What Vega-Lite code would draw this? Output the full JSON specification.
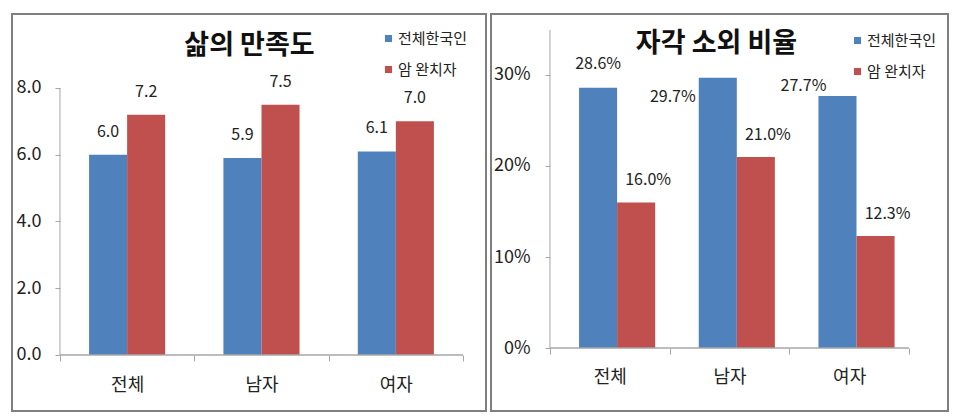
{
  "$schema": "https://vega.github.io/schema/vega-lite/v6.json",
  "padding": {"left": 11, "top": 13, "right": 0, "bottom": 0},
  "background": "white",
  "spacing": 3,
  "config": {
    "font": "Noto Sans CJK KR",
    "view": {"stroke": "#7f7f7f", "strokeWidth": 2},
    "axis": {"grid": false, "domain": false, "tickColor": "#a6a6a6", "tickWidth": 1, "labelColor": "#222222", "labelFont": "Noto Sans CJK KR", "labelFontSize": 18},
    "legend": {"symbolType": "square", "symbolSize": 50, "symbolStrokeWidth": 0, "labelFontSize": 15, "labelColor": "#222222", "labelFont": "Noto Sans CJK KR", "rowPadding": 15, "labelOffset": 2}
  },
  "datasets": {
    "life": [
      {"cat": "전체", "grp": "전체한국인", "val": 6.0},
      {"cat": "전체", "grp": "암 완치자", "val": 7.2},
      {"cat": "남자", "grp": "전체한국인", "val": 5.9},
      {"cat": "남자", "grp": "암 완치자", "val": 7.5},
      {"cat": "여자", "grp": "전체한국인", "val": 6.1},
      {"cat": "여자", "grp": "암 완치자", "val": 7.0}
    ],
    "alien": [
      {"cat": "전체", "grp": "전체한국인", "val": 0.286},
      {"cat": "전체", "grp": "암 완치자", "val": 0.160},
      {"cat": "남자", "grp": "전체한국인", "val": 0.297},
      {"cat": "남자", "grp": "암 완치자", "val": 0.210},
      {"cat": "여자", "grp": "전체한국인", "val": 0.277},
      {"cat": "여자", "grp": "암 완치자", "val": 0.123}
    ]
  },
  "resolve": {"legend": {"color": "independent"}},
  "hconcat": [
    {
      "width": 474,
      "height": 397,
      "data": {"name": "life"},
      "layer": [
        {
          "mark": {"type": "bar"},
          "encoding": {
            "x": {"field": "cat", "type": "nominal", "sort": ["전체", "남자", "여자"], "title": null,
              "scale": {"domain": ["전체", "남자", "여자"], "paddingInner": 0, "paddingOuter": 0.264, "align": 0.676},
              "axis": {"orient": "bottom", "offset": -56, "tickBand": "extent", "tickSize": 6, "labelPadding": 15, "labelAngle": 0}},
            "xOffset": {"field": "grp", "type": "nominal", "sort": ["전체한국인", "암 완치자"],
              "scale": {"domain": ["전체한국인", "암 완치자"], "paddingInner": 0, "paddingOuter": 0.765}},
            "y": {"field": "val", "type": "quantitative", "title": null,
              "scale": {"domain": [-1.678, 10.217], "zero": false, "nice": false},
              "axis": {"values": [0, 2, 4, 6, 8], "format": ".1f", "offset": -48, "tickSize": 5, "labelPadding": 14}},
            "color": {"field": "grp", "type": "nominal", "sort": ["전체한국인", "암 완치자"],
              "scale": {"domain": ["전체한국인", "암 완치자"], "range": ["#4F81BD", "#C0504D"]},
              "legend": {"title": null, "orient": "none", "legendX": 369, "legendY": 17}}
          }
        },
        {
          "mark": {"type": "text", "baseline": "middle", "dy": -23, "fontSize": 16, "color": "#222222"},
          "encoding": {
            "x": {"field": "cat", "type": "nominal", "sort": ["전체", "남자", "여자"], "title": null},
            "xOffset": {"field": "grp", "type": "nominal", "sort": ["전체한국인", "암 완치자"]},
            "y": {"field": "val", "type": "quantitative", "title": null},
            "text": {"field": "val", "type": "quantitative", "format": ".1f"}
          }
        },
        {
          "transform": [{"filter": "datum.grp === '전체한국인'"}],
          "mark": {"type": "bar", "fill": null, "stroke": "#a6a6a6", "strokeWidth": 1},
          "encoding": {
            "x": {"field": "cat", "type": "nominal", "sort": ["전체", "남자", "여자"], "title": null},
            "y": {"datum": 0, "type": "quantitative", "title": null},
            "y2": {"datum": 0}
          }
        },
        {
          "transform": [{"filter": "datum.grp === '전체한국인' && datum.cat === '전체'"}],
          "mark": {"type": "rule", "stroke": "#a6a6a6", "strokeWidth": 1},
          "encoding": {
            "x": {"field": "cat", "type": "nominal", "sort": ["전체", "남자", "여자"], "title": null, "bandPosition": 0},
            "y": {"datum": 0, "type": "quantitative", "title": null},
            "y2": {"datum": 8}
          }
        },
        {
          "transform": [{"filter": "datum.grp === '전체한국인' && datum.cat === '전체'"}],
          "mark": {"type": "text", "text": "삶의 만족도", "fontSize": 27, "fontWeight": "bold", "baseline": "middle", "dx": -12, "color": "#111111"},
          "encoding": {
            "x": {"datum": "남자", "type": "nominal", "title": null},
            "y": {"datum": 9.26, "type": "quantitative", "title": null}
          }
        }
      ]
    },
    {
      "width": 457,
      "height": 397,
      "data": {"name": "alien"},
      "layer": [
        {
          "mark": {"type": "bar"},
          "encoding": {
            "x": {"field": "cat", "type": "nominal", "sort": ["전체", "남자", "여자"], "title": null,
              "scale": {"domain": ["전체", "남자", "여자"], "paddingInner": 0, "paddingOuter": 0.409, "align": 0.602},
              "axis": {"orient": "bottom", "offset": -63, "tickBand": "extent", "tickSize": 6, "labelPadding": 14, "labelAngle": 0}},
            "xOffset": {"field": "grp", "type": "nominal", "sort": ["전체한국인", "암 완치자"],
              "scale": {"domain": ["전체한국인", "암 완치자"], "paddingInner": 0, "paddingOuter": 0.76}},
            "y": {"field": "val", "type": "quantitative", "title": null,
              "scale": {"domain": [-0.0692, 0.367], "zero": false, "nice": false},
              "axis": {"values": [0, 0.1, 0.2, 0.3], "format": ".0%", "offset": -59, "tickSize": 5, "labelPadding": 15}},
            "color": {"field": "grp", "type": "nominal", "sort": ["전체한국인", "암 완치자"],
              "scale": {"domain": ["전체한국인", "암 완치자"], "range": ["#4F81BD", "#C0504D"]},
              "legend": {"title": null, "orient": "none", "legendX": 359, "legendY": 19}}
          }
        },
        {
          "transform": [{"filter": "datum.cat === '전체' && datum.grp === '전체한국인'"}],
          "mark": {"type": "text", "baseline": "middle", "dy": -24, "fontSize": 16, "color": "#222222"},
          "encoding": {
            "x": {"field": "cat", "type": "nominal", "sort": ["전체", "남자", "여자"], "title": null},
            "xOffset": {"field": "grp", "type": "nominal", "sort": ["전체한국인", "암 완치자"]},
            "y": {"field": "val", "type": "quantitative", "title": null},
            "text": {"field": "val", "type": "quantitative", "format": ".1%"}
          }
        },
        {
          "transform": [{"filter": "datum.cat === '남자' && datum.grp === '전체한국인'"}],
          "mark": {"type": "text", "baseline": "middle", "dx": -45, "dy": 19, "fontSize": 16, "color": "#222222"},
          "encoding": {
            "x": {"field": "cat", "type": "nominal", "sort": ["전체", "남자", "여자"], "title": null},
            "xOffset": {"field": "grp", "type": "nominal", "sort": ["전체한국인", "암 완치자"]},
            "y": {"field": "val", "type": "quantitative", "title": null},
            "text": {"field": "val", "type": "quantitative", "format": ".1%"}
          }
        },
        {
          "transform": [{"filter": "datum.cat === '여자' && datum.grp === '전체한국인'"}],
          "mark": {"type": "text", "baseline": "middle", "dx": -34, "dy": -10, "fontSize": 16, "color": "#222222"},
          "encoding": {
            "x": {"field": "cat", "type": "nominal", "sort": ["전체", "남자", "여자"], "title": null},
            "xOffset": {"field": "grp", "type": "nominal", "sort": ["전체한국인", "암 완치자"]},
            "y": {"field": "val", "type": "quantitative", "title": null},
            "text": {"field": "val", "type": "quantitative", "format": ".1%"}
          }
        },
        {
          "transform": [{"filter": "datum.grp === '암 완치자'"}],
          "mark": {"type": "text", "baseline": "middle", "dx": 12, "dy": -22, "fontSize": 16, "color": "#222222"},
          "encoding": {
            "x": {"field": "cat", "type": "nominal", "sort": ["전체", "남자", "여자"], "title": null},
            "xOffset": {"field": "grp", "type": "nominal", "sort": ["전체한국인", "암 완치자"]},
            "y": {"field": "val", "type": "quantitative", "title": null},
            "text": {"field": "val", "type": "quantitative", "format": ".1%"}
          }
        },
        {
          "transform": [{"filter": "datum.grp === '전체한국인'"}],
          "mark": {"type": "bar", "fill": null, "stroke": "#a6a6a6", "strokeWidth": 1},
          "encoding": {
            "x": {"field": "cat", "type": "nominal", "sort": ["전체", "남자", "여자"], "title": null},
            "y": {"datum": 0, "type": "quantitative", "title": null},
            "y2": {"datum": 0}
          }
        },
        {
          "transform": [{"filter": "datum.grp === '전체한국인' && datum.cat === '전체'"}],
          "mark": {"type": "rule", "stroke": "#a6a6a6", "strokeWidth": 1},
          "encoding": {
            "x": {"field": "cat", "type": "nominal", "sort": ["전체", "남자", "여자"], "title": null, "bandPosition": 0},
            "y": {"datum": 0, "type": "quantitative", "title": null},
            "y2": {"datum": 0.3495}
          }
        },
        {
          "transform": [{"filter": "datum.grp === '전체한국인' && datum.cat === '전체'"}],
          "mark": {"type": "text", "text": "자각 소외 비율", "fontSize": 27, "fontWeight": "bold", "baseline": "middle", "dx": -13, "color": "#111111"},
          "encoding": {
            "x": {"datum": "남자", "type": "nominal", "title": null},
            "y": {"datum": 0.334, "type": "quantitative", "title": null}
          }
        }
      ]
    }
  ]
}
